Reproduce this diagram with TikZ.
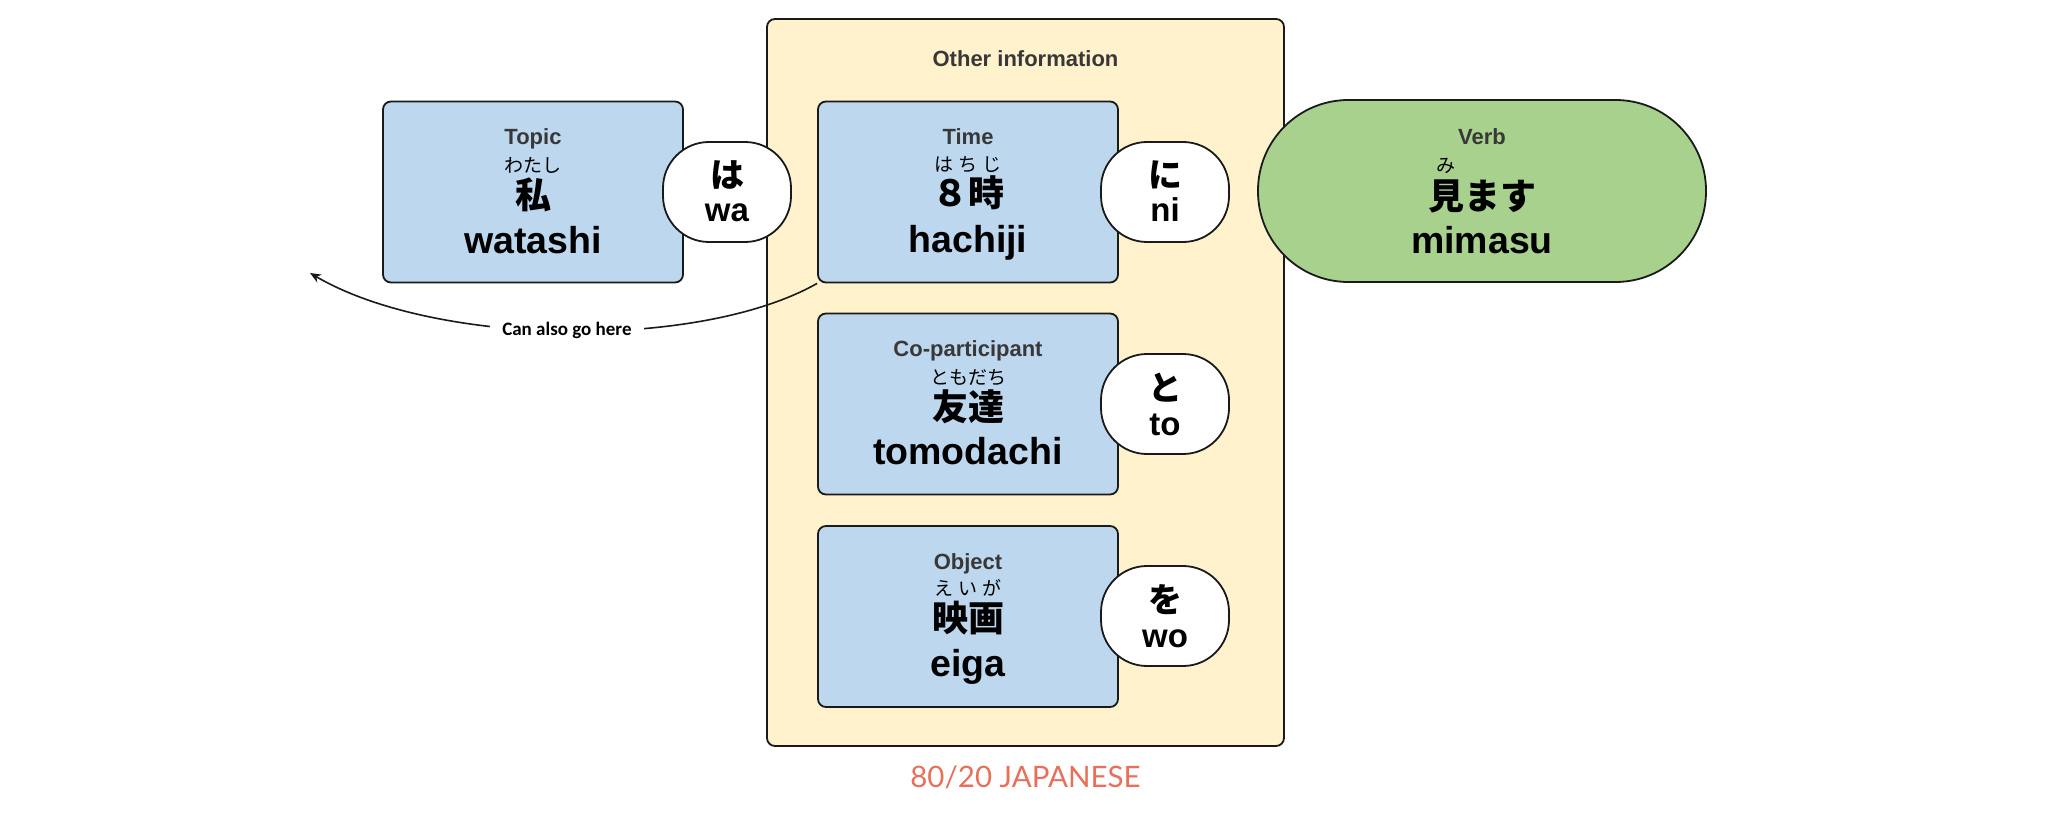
\documentclass[tikz,border=0pt]{standalone}
\usepackage{fontspec}
\setmainfont{Liberation Sans}
\newfontfamily\jp{Noto Sans CJK JP}
\newfontfamily\cali{Carlito}
\newfontfamily\brandfont{Lato}
\usetikzlibrary{arrows.meta}
\definecolor{boxblue}{RGB}{189,215,238}
\definecolor{boxyellow}{RGB}{255,242,204}
\definecolor{verbgreen}{RGB}{169,209,142}
\definecolor{lblgray}{RGB}{56,56,56}
\definecolor{logored}{RGB}{232,112,90}
\definecolor{edgec}{RGB}{26,26,26}
\begin{document}
\begin{tikzpicture}[x=1pt, y=-1pt,
  wordbox/.style={draw=edgec, line width=1.8pt, fill=boxblue, rounded corners=8pt, minimum width=300pt, minimum height=181pt, inner sep=0pt},
  bubble/.style={draw=edgec, line width=1.8pt, fill=white, rounded corners=46pt, minimum width=128pt, minimum height=100pt, inner sep=0pt},
  cat/.style={anchor=base, font=\fontsize{22}{22}\selectfont\bfseries, text=lblgray, inner sep=0pt},
  furi/.style={font=\jp\fontsize{19}{19}\selectfont, inner sep=0pt, text height=16.7pt, text depth=2.3pt},
  kanji/.style={font=\jp\bfseries\fontsize{36}{36}\selectfont, inner sep=0pt, text height=31.7pt, text depth=4.3pt},
  roma/.style={anchor=base, font=\fontsize{37.5}{37.5}\selectfont\bfseries, inner sep=0pt},
  kana/.style={font=\jp\bfseries\fontsize{34}{34}\selectfont, inner sep=0pt, text height=29.9pt, text depth=4.1pt},
  romb/.style={anchor=base, font=\fontsize{33}{33}\selectfont\bfseries, inner sep=0pt},
]
\useasboundingbox (0,0) rectangle (2048,821);

% container
\node[draw=edgec, line width=1.8pt, fill=boxyellow, rounded corners=8pt, minimum width=517pt, minimum height=727pt, inner sep=0pt] (other) at (1025.5,382.5) {};
\node[cat] (otherlbl) at (1025.5,67) {Other information};

% topic
\node[wordbox] (topic) at (533,192) {};
\node[cat] (topiccat) at (533,145) {Topic};
\node[furi] (topicfuri) at (533,165) {わたし};
\node[kanji] (topicjp) at (533,195) {私};
\node[roma] (topicro) at (533,253) {watashi};

% time
\node[wordbox] (time) at (968,192) {};
\node[cat] (timecat) at (968,145) {Time};
\node[furi] (timefuri) at (968,164) {は\hspace{5pt}ち\hspace{5pt}じ};
\node[kanji] (timejp) at (968,193) {８時};
\node[roma] (timero) at (968,252) {hachiji};

% co-participant
\node[wordbox] (co) at (968,404) {};
\node[cat] (cocat) at (968,356) {Co-participant};
\node[furi] (cofuri) at (968,377) {ともだち};
\node[kanji] (cojp) at (968,407) {友達};
\node[roma] (coro) at (968,464) {tomodachi};

% object
\node[wordbox] (obj) at (968,616.5) {};
\node[cat] (objcat) at (968,569) {Object};
\node[furi] (objfuri) at (968,588) {え\hspace{5pt}い\hspace{5pt}が};
\node[kanji] (objjp) at (968,618) {映画};
\node[roma] (objro) at (968,676) {eiga};

% verb
\node[draw=edgec, line width=1.8pt, fill=verbgreen, rounded corners=90.5pt, minimum width=448pt, minimum height=182pt, inner sep=0pt] (verb) at (1482,191) {};
\node[cat] (verbcat) at (1482,145) {Verb};
\node[furi] (verbfuri) at (1446,165) {み};
\node[kanji] (verbjp) at (1482,196) {見ます};
\node[roma] (verbro) at (1482,253) {mimasu};

% particles
\node[bubble] (wa) at (727,192) {};
\node[kana] (wajp) at (727,175) {は};
\node[romb] (waro) at (727,222) {wa};

\node[bubble] (ni) at (1165,192) {};
\node[kana] (nijp) at (1165,175) {に};
\node[romb] (niro) at (1165,222) {ni};

\node[bubble] (to) at (1165,404) {};
\node[kana] (tojp) at (1165,388) {と};
\node[romb] (toro) at (1165,435) {to};

\node[bubble] (wo) at (1165,616) {};
\node[kana] (wojp) at (1165,600) {を};
\node[romb] (woro) at (1165,647) {wo};

% arrow
\coordinate (elsewhere) at (310,273);
\draw[line width=1.6pt, edgec, -{Stealth[length=11pt,width=9pt]}] (time.south west) .. controls (700,350) and (436,347) .. (elsewhere)
  node[pos=0.5, fill=white, inner xsep=12pt, inner ysep=3pt, font=\cali\bfseries\fontsize{19}{19}\selectfont, text=black] (alsolbl) {Can also go here};

% brand
\node[font=\brandfont\fontsize{29.5}{29.5}\selectfont, text=logored, inner sep=0pt] (brand) at (1025.5,777) {80/20 JAPANESE};
\end{tikzpicture}
\end{document}
